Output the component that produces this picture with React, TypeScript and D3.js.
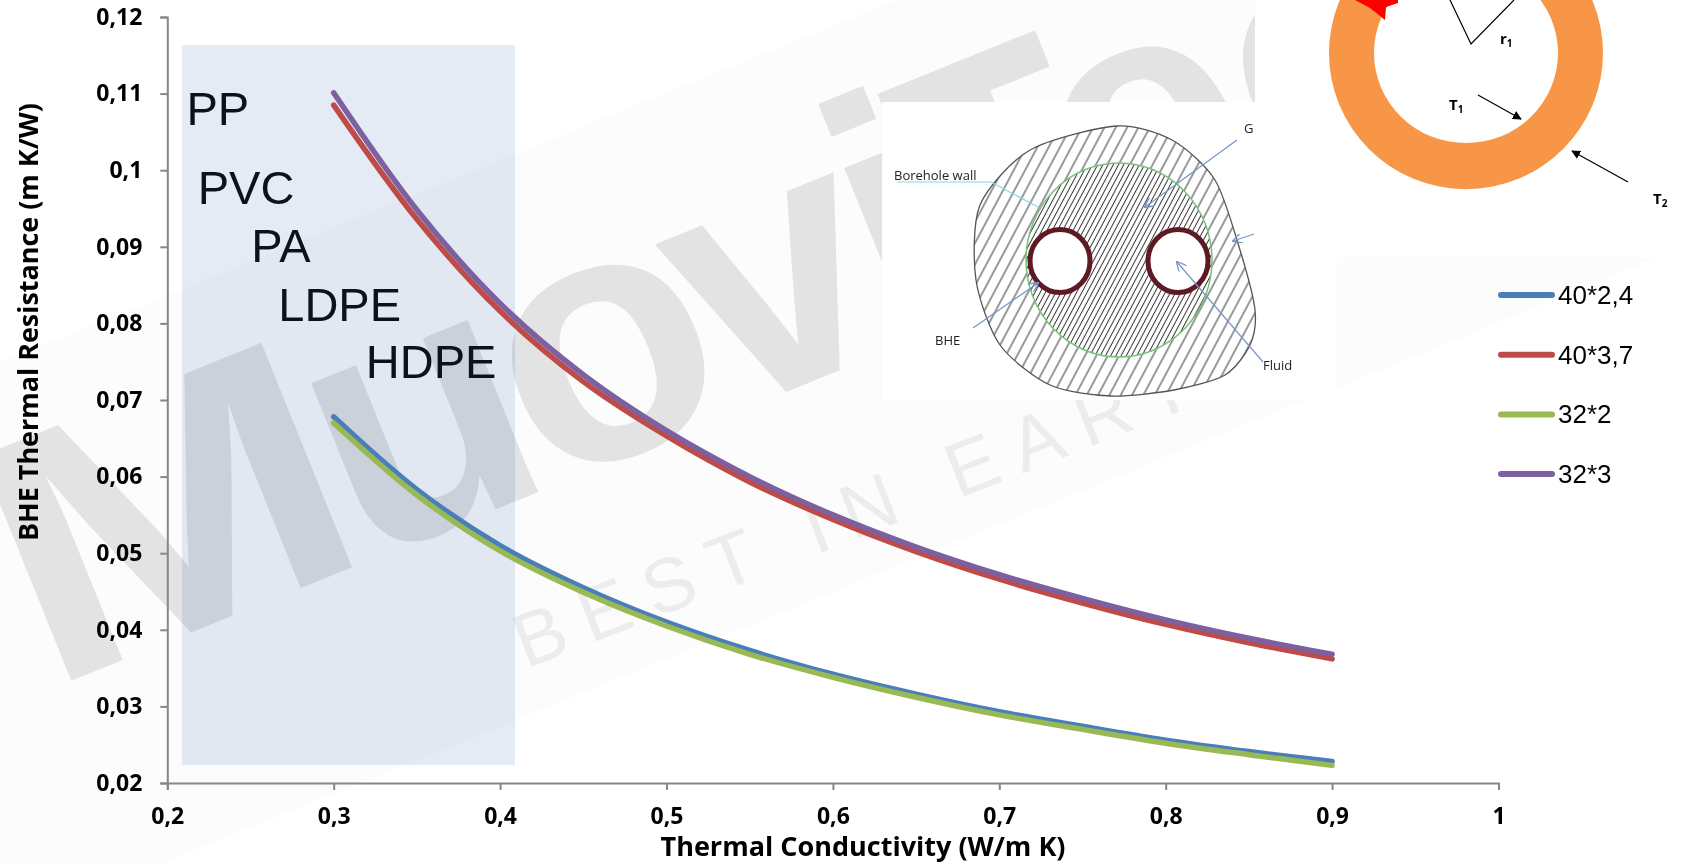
import React, { useEffect, useRef } from "react";
import * as d3 from "d3";

const conductivity = [0.3, 0.35, 0.4, 0.45, 0.5, 0.55, 0.6, 0.65, 0.7, 0.75, 0.8, 0.85, 0.9];
const s40x24 = [0.0678, 0.0583, 0.051, 0.0455, 0.041, 0.0373, 0.0342, 0.0316, 0.0293, 0.0274, 0.0256, 0.0241, 0.0228];
const s40x37 = [0.1085, 0.0936, 0.0816, 0.0724, 0.0653, 0.0593, 0.0544, 0.0502, 0.0466, 0.0435, 0.0407, 0.0383, 0.0362];
const s32x2 = [0.067, 0.0576, 0.0503, 0.0449, 0.0405, 0.0368, 0.0338, 0.0312, 0.0289, 0.027, 0.0252, 0.0237, 0.0223];
const s32x3 = [0.1101, 0.0948, 0.0826, 0.0733, 0.066, 0.06, 0.055, 0.0508, 0.0472, 0.0441, 0.0413, 0.0389, 0.0368];
const seriesNames = ["40*2,4", "40*3,7", "32*2", "32*3"];
const seriesColors = ["#4a7ebb", "#be4b48", "#98b954", "#7d60a0"];
const seriesValues = [s40x24, s40x37, s32x2, s32x3];
const xTicks = [0.2, 0.3, 0.4, 0.5, 0.6, 0.7, 0.8, 0.9, 1];
const yTicks = [0.02, 0.03, 0.04, 0.05, 0.06, 0.07, 0.08, 0.09, 0.1, 0.11, 0.12];
const materials = ["PP", "PVC", "PA", "LDPE", "HDPE"];
const materialAnchors: [number, number][] = [[0.2115, 0.1059], [0.2183, 0.0956], [0.2505, 0.088], [0.2667, 0.0803], [0.3193, 0.0729]];

const x = d3.scaleLinear().domain([0.2, 1]).range([167.3, 1498.5]);
const y = d3.scaleLinear().domain([0.02, 0.12]).range([783, 17]);
const FONT = "'Open Sans', sans-serif";
const ARIAL = "'Liberation Sans', Arial, sans-serif";

// watermark lettering: glyph, offset along the rotated baseline, horizontal stretch
const markLetters: [string, number, number][] = [
  ["M", -7, 1.23],
  ["u", 334, 1],
  ["o", 531, 1],
  ["v", 725, 1],
  ["i", 906, 1],
  ["T", 986, 0.82],
  ["e", 1126, 1],
  ["c", 1320, 1],
  ["h", 1500, 1],
];

const blob: [number, number][] = [[1116, 126], [1172, 140], [1215, 180], [1240, 250], [1255, 310], [1250, 345], [1225, 375], [1174, 390], [1111, 396], [1050, 385], [1000, 345], [976, 280], [980, 205], [1030, 150]];
const arrows = [
  [1237, 140, 1145, 207], [1254, 234, 1233, 241], [973, 328, 1038, 283], [1263, 362, 1177, 262],
];

export default function App() {
  const xRef = useRef<SVGGElement>(null);
  const yRef = useRef<SVGGElement>(null);

  useEffect(() => {
    const fmt = (v: any) => String(+(+v).toFixed(2)).replace(".", ",");
    const style = (g: any) => {
      g.select(".domain").attr("stroke", "#868686").attr("stroke-width", 2);
      g.selectAll(".tick line").attr("stroke", "#868686").attr("stroke-width", 2);
      g.selectAll(".tick text").attr("fill", "#000").attr("font-family", FONT).attr("font-weight", 700).attr("font-size", 23);
    };
    const gx = d3.select(xRef.current!);
    gx.call(d3.axisBottom(x).tickValues(xTicks).tickFormat(fmt).tickSize(7).tickPadding(18) as any);
    style(gx);
    const gy = d3.select(yRef.current!);
    gy.call(d3.axisLeft(y).tickValues(yTicks).tickFormat(fmt).tickSize(7).tickPadding(18) as any);
    style(gy);
  }, []);

  const line = d3
    .line<number>()
    .x((_, i) => x(conductivity[i]))
    .y((d) => y(d))
    .curve(d3.curveCatmullRom.alpha(0.5));

  const blobPath = d3.line().curve(d3.curveCardinalClosed.tension(0.2))(blob) || "";

  return (
    <svg width={1681} height={864} style={{ position: "absolute", left: 0, top: 0, display: "block", background: "#fff" }}>
      <defs>
        <pattern id="hatch" width={10} height={10} patternUnits="userSpaceOnUse" patternTransform="rotate(28)">
          <line x1={5} y1={0} x2={5} y2={10} stroke="#333" strokeWidth={1} />
        </pattern>
        <pattern id="hatchDense" width={4.6} height={4.6} patternUnits="userSpaceOnUse" patternTransform="rotate(28)">
          <line x1={2.3} y1={0} x2={2.3} y2={4.6} stroke="#333" strokeWidth={1} />
        </pattern>
        <marker id="black" viewBox="0 0 10 10" refX={9} refY={5} markerWidth={9} markerHeight={9} orient="auto" markerUnits="userSpaceOnUse">
          <path d="M0,0L10,5L0,10Z" fill="#000" />
        </marker>
        <marker id="blueArrow" viewBox="0 0 10 10" refX={9} refY={5} markerWidth={10} markerHeight={10} orient="auto" markerUnits="userSpaceOnUse">
          <path d="M0,0L10,5L0,10" fill="none" stroke="#7796c4" strokeWidth={1.3} />
        </marker>
      </defs>

      {/* watermark */}
      <path d="M-200,444.0 L1900,-406.5 L1900,159.5 L-200,1010.0 Z" fill="#fcfcfc" />
      <g transform="translate(51,689) rotate(-22)" fontFamily={ARIAL} fontWeight={700} fontSize={352} fill="#e3e3e3">
        {markLetters.map(([c, off, sx]) => (
          <text key={c} transform={`translate(${off},0) scale(${sx},1)`}>{c}</text>
        ))}
      </g>
      <text transform="translate(526,669) rotate(-21.5)" fontFamily={ARIAL} fontSize={76} fill="#ececec" textLength={795} lengthAdjust="spacing">BEST IN EARTH</text>

      {/* inset pictures' white backgrounds */}
      <rect x={1255} y={0} width={426} height={257} fill="#fff" />
      <rect x={882} y={102} width={455} height={298} fill="#fff" />

      {/* highlighted band */}
      <rect x={182} y={45} width={333} height={720} fill="#e4ebf5" style={{ mixBlendMode: "multiply" }} />

      {/* axes */}
      <g ref={xRef} transform="translate(0,783)" />
      <g ref={yRef} transform="translate(167.3,0)" />
      <text transform="translate(38,322) rotate(-90)" textAnchor="middle" fontFamily={FONT} fontWeight={700} fontSize={26} textLength={438} lengthAdjust="spacingAndGlyphs">BHE Thermal Resistance (m K/W)</text>
      <text x={863} y={856} textAnchor="middle" fontFamily={FONT} fontWeight={700} fontSize={27} textLength={405} lengthAdjust="spacingAndGlyphs">Thermal Conductivity (W/m K)</text>

      {/* materials */}
      {materials.map((m, i) => (
        <text key={m} x={x(materialAnchors[i][0])} y={y(materialAnchors[i][1])} fontFamily={ARIAL} fontSize={47} fill="#0c121c">{m}</text>
      ))}

      {/* borehole diagram */}
      <path d={blobPath} fill="url(#hatch)" stroke="#555" strokeWidth={1.3} />
      <ellipse cx={1119} cy={260} rx={93} ry={97} fill="#fff" />
      <ellipse cx={1119} cy={260} rx={93} ry={97} fill="url(#hatchDense)" stroke="#74c476" strokeWidth={1.5} />
      {[1060, 1178].map((cx) => (
        <ellipse key={cx} cx={cx} cy={261} rx={30} ry={31.5} fill="#fff" stroke="#5e1a22" strokeWidth={5} />
      ))}
      <path d="M897,182H991L1038,207" fill="none" stroke="#7fdbe0" strokeWidth={1.2} />
      {arrows.map((a, i) => (
        <line key={i} x1={a[0]} y1={a[1]} x2={a[2]} y2={a[3]} stroke="#7796c4" strokeWidth={1.2} markerEnd="url(#blueArrow)" />
      ))}
      <g fontFamily={FONT} fontSize={13} fill="#222">
        <text x={1244} y={133}>G</text>
        <text x={894} y={180}>Borehole wall</text>
        <text x={935} y={345}>BHE</text>
        <text x={1263} y={370}>Fluid</text>
      </g>

      {/* ring diagram */}
      <path d={`M${1466 - 137},53a137,136 0 1,0 274,0a137,136 0 1,0 -274,0ZM${1466 - 92},53a92,90 0 1,1 184,0a92,90 0 1,1 -184,0Z`} fill="#f79646" fillRule="evenodd" />
      <path d="M1355,0L1398,0L1398,3L1386,7L1385,20L1370,8Z" fill="#f00" />
      <path d="M1450,0L1471,44L1514,0" fill="none" stroke="#000" strokeWidth={1.2} />
      <line x1={1478} y1={95} x2={1521} y2={119} stroke="#000" strokeWidth={1.2} markerEnd="url(#black)" />
      <line x1={1628} y1={182} x2={1572} y2={151} stroke="#000" strokeWidth={1.2} markerEnd="url(#black)" />
      <g fontFamily={FONT} fontWeight={700} fontSize={15} fill="#000">
        <text x={1500} y={44}>r<tspan fontSize={10} dy={3}>1</tspan></text>
        <text x={1449} y={110}>T<tspan fontSize={10} dy={3}>1</tspan></text>
        <text x={1653} y={204}>T<tspan fontSize={10} dy={3}>2</tspan></text>
      </g>

      {/* series */}
      {seriesValues.map((vals, i) => (
        <path key={seriesNames[i]} d={line(vals) || ""} fill="none" stroke={seriesColors[i]} strokeWidth={5.5} strokeLinecap="round" />
      ))}

      {/* legend */}
      {seriesNames.map((n, i) => (
        <g key={n} transform={`translate(0,${295 + i * 59.7})`}>
          <line x1={1501} x2={1552} stroke={seriesColors[i]} strokeWidth={6} strokeLinecap="round" />
          <text x={1558} y={9} fontFamily={ARIAL} fontSize={26} fill="#000">{n}</text>
        </g>
      ))}
    </svg>
  );
}
